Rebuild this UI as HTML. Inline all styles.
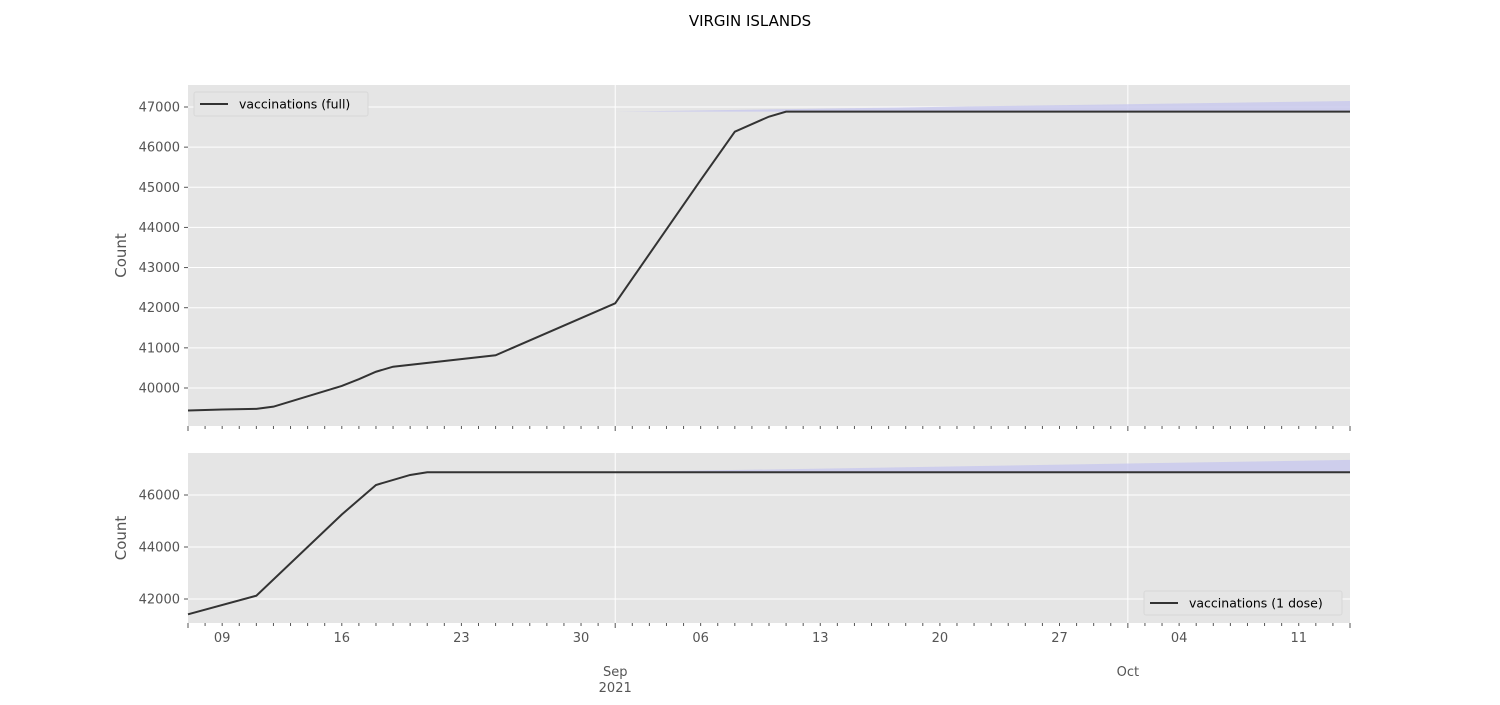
<!DOCTYPE html>
<html><head><meta charset="utf-8"><style>
body{margin:0;background:#fff}
svg text{font-family:"DejaVu Sans","Liberation Sans",sans-serif}
</style></head><body>
<svg id="chart" width="1500" height="700" xmlns="http://www.w3.org/2000/svg">
<text x="750" y="26" text-anchor="middle" font-size="15">VIRGIN ISLANDS</text>
<g id="top"></g><g id="bot"></g>
</svg>
<script>
// day index 0 = 2021-08-07
const fullDays = [0,2,4,5,9,10,11,12,18,25,30,32,34,35,68];
const fullVals = [39440,39465,39480,39535,40050,40220,40405,40530,40815,42110,45180,46385,46760,46885,46885];
const fullBandDays = [25,68];
const fullBandUpper = [46885,47150];
const doseDays = [0,4,9,11,13,14,68];
const doseVals = [41412,42127,45250,46385,46770,46875,46875];
const doseBandDays = [25,68];
const doseBandUpper = [46885,47350];
const dayLabels = ["09","16","23","30","06","13","20","27","04","11"];
const dayLabelIdx = [2,9,16,23,30,37,44,51,58,65];
const monthLabels = ["Sep\n2021","Oct"];
const monthIdx = [25,55];
const topTicks = [40000,41000,42000,43000,44000,45000,46000,47000];
const botTicks = [42000,44000,46000];

const NS="http://www.w3.org/2000/svg";
const X0=188,X1=1350,D0=0,D1=68;
const xs=d=>X0+(d-D0)/(D1-D0)*(X1-X0);
function el(p,t,a){const e=document.createElementNS(NS,t);for(const k in a)e.setAttribute(k,a[k]);p.appendChild(e);return e;}
function panel(g,top,bot,vmin,vmax,ticks,days,vals,bd,bu,legend,legPos,name){
  const ys=v=>bot-(v-vmin)/(vmax-vmin)*(bot-top);
  const bg=el(g,'rect',{x:X0,y:top,width:X1-X0,height:bot-top,fill:'#e5e5e5'});
  
  ticks.forEach(t=>{
    el(g,'line',{x1:X0,x2:X1,y1:ys(t),y2:ys(t),stroke:'#fff','stroke-width':1});
    el(g,'line',{x1:X0-4,x2:X0,y1:ys(t),y2:ys(t),stroke:'#555'});
    const tx=el(g,'text',{x:X0-8,y:ys(t)+4.5,'text-anchor':'end','font-size':13,fill:'#555'});tx.textContent=t;
    
  });
  monthIdx.forEach(d=>el(g,'line',{x1:xs(d),x2:xs(d),y1:top,y2:bot,stroke:'#fff','stroke-width':1}));
  for(let d=D0;d<=D1;d++){const maj=monthIdx.includes(d)||d==0||d==D1;el(g,'line',{x1:xs(d),x2:xs(d),y1:bot,y2:bot+(maj?5:3),stroke:'#555'});}
  let pts=bd.map((d,i)=>xs(d)+','+ys(bu[i])).join(' ');
  const v0=vals[vals.length-1];
  pts+=' '+xs(bd[1])+','+ys(v0)+' '+xs(bd[0])+','+ys(v0);
  const band=el(g,'polygon',{points:pts,fill:'#c8c8ee',opacity:0.8});
  
  const line=el(g,'polyline',{points:days.map((d,i)=>xs(d)+','+ys(vals[i])).join(' '),fill:'none',stroke:'#333','stroke-width':2});
  
  const yl=el(g,'text',{x:126,y:(top+bot)/2,'text-anchor':'middle','font-size':15,fill:'#555',transform:`rotate(-90 126 ${(top+bot)/2})`});yl.textContent='Count';
  
  const lg=el(g,'g',{});
  el(lg,'rect',{x:legPos[0],y:legPos[1],width:legPos[2],height:24,fill:'#e5e5e5',stroke:'#d8d8d8',rx:2});
  el(lg,'line',{x1:legPos[0]+6,x2:legPos[0]+34,y1:legPos[1]+12,y2:legPos[1]+12,stroke:'#333','stroke-width':2});
  const lt=el(lg,'text',{x:legPos[0]+45,y:legPos[1]+16.5,'font-size':12.5});lt.textContent=legend;
}
const T=document.getElementById('top'),B=document.getElementById('bot');
panel(T,85,426,39053,47548,topTicks,fullDays,fullVals,fullBandDays,fullBandUpper,'vaccinations (full)',[194,92,174],'top');
panel(B,453,623,41077,47615,botTicks,doseDays,doseVals,doseBandDays,doseBandUpper,'vaccinations (1 dose)',[1144,591,198],'bottom');
dayLabels.forEach((l,i)=>{const t=el(B,'text',{x:xs(dayLabelIdx[i]),y:642,'text-anchor':'middle','font-size':13,fill:'#555'});t.textContent=l;
  });
monthLabels.forEach((l,i)=>{l.split('\n').forEach((s,j)=>{const t=el(B,'text',{x:xs(monthIdx[i]),y:676+j*16,'text-anchor':'middle','font-size':13,fill:'#555'});t.textContent=s;
  });});
</script>
</body></html>
